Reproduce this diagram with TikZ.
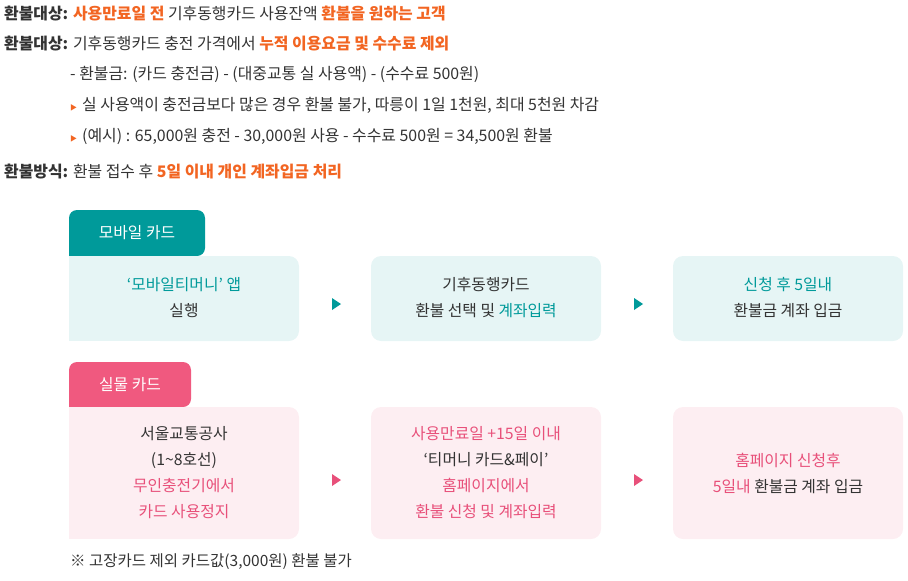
\documentclass[tikz,border=0pt]{standalone}
\usepackage{fontspec}
\setmainfont{Noto Sans CJK KR}
\usetikzlibrary{calc}
\definecolor{org}{HTML}{F26522}
\definecolor{teal}{HTML}{009A9A}
\definecolor{pnk}{HTML}{E8507A}
\definecolor{ltteal}{HTML}{E6F5F5}
\definecolor{ltpink}{HTML}{FDEEF2}
\definecolor{tabpink}{HTML}{F0597F}
\definecolor{txt}{HTML}{333333}
\newcommand{\og}[1]{\textcolor{org}{\bfseries #1}}
\newcommand{\tl}[1]{\textcolor{teal}{#1}}
\newcommand{\pk}[1]{\textcolor{pnk}{#1}}
\newcommand{\tri}{\textcolor{org}{\scriptsize▶}\hspace{5pt}}
\begin{document}
\begin{tikzpicture}[x=1pt,y=-1pt,
  line/.style={anchor=west,inner sep=0pt,font=\fontsize{15.9}{18}\selectfont,text=txt},
  boxtext/.style={align=center,font=\fontsize{15.8}{26}\selectfont,text=txt},
  tabtext/.style={text=white,font=\fontsize{15.8}{18}\selectfont}]
\useasboundingbox (0,0) rectangle (908,581);
\node[line] (l1) at (4,14) {\textbf{환불대상:} \og{사용만료일 전} 기후동행카드 사용잔액 \og{환불을 원하는 고객}};
\node[line] (l2) at (4,44) {\textbf{환불대상:} 기후동행카드 충전 가격에서 \og{누적 이용요금 및 수수료 제외}};
\node[line] (l3) at (70,74) {- 환불금: (카드 충전금) - (대중교통 실 사용액) - (수수료 500원)};
\node[line] (l4) at (70,105) {\tri 실 사용액이 충전금보다 많은 경우 환불 불가, 따릉이 1일 1천원, 최대 5천원 차감};
\node[line] (l5) at (70,136) {\tri (예시) : 65,000원 충전 - 30,000원 사용 - 수수료 500원 = 34,500원 환불};
\node[line] (l6) at (4,172) {\textbf{환불방식:} 환불 접수 후 \og{5일 이내 개인 계좌입금 처리}};
% mobile
\fill[teal,rounded corners=8pt] (69,256) -- (69,210) -- (205,210) -- (205,256) [sharp corners] -- cycle;
\node[tabtext] (tm) at (137,233) {모바일 카드};
\fill[ltteal,rounded corners=10pt] (150,256) -- (299,256) -- (299,341) -- (150,341) -- cycle;
\fill[ltteal] (69,256) rectangle (180,341);
\node[boxtext] (m1) at (184,298) {\tl{‘모바일티머니’ 앱}\\실행};
\fill[ltteal,rounded corners=10pt] (371,256) rectangle (601,341);
\node[boxtext] (m2) at (486,298) {기후동행카드\\환불 선택 및 \tl{계좌입력}};
\fill[ltteal,rounded corners=10pt] (673,256) rectangle (903,341);
\node[boxtext] (m3) at (788,298) {\tl{신청 후 5일내}\\환불금 계좌 입금};
\fill[teal] (332,298) -- (341,304) -- (332,310) -- cycle;
\fill[teal] (634,298) -- (643,304) -- (634,310) -- cycle;
% physical
\fill[tabpink,rounded corners=8pt] (69,407) -- (69,362) -- (191,362) -- (191,407) [sharp corners] -- cycle;
\node[tabtext] (tp) at (130,385) {실물 카드};
\fill[ltpink,rounded corners=10pt] (150,407) -- (299,407) -- (299,539) -- (150,539) -- cycle;
\fill[ltpink] (69,407) rectangle (180,539);
\node[boxtext] (p1) at (184,473) {서울교통공사\\(1\textasciitilde8호선)\\\pk{무인충전기에서}\\\pk{카드 사용정지}};
\fill[ltpink,rounded corners=10pt] (371,407) rectangle (601,539);
\node[boxtext] (p2) at (486,473) {\pk{사용만료일 +15일 이내}\\‘티머니 카드\&페이’\\\pk{홈페이지에서}\\\pk{환불 신청 및 계좌입력}};
\fill[ltpink,rounded corners=10pt] (673,407) rectangle (903,539);
\node[boxtext] (p3) at (788,473) {\pk{홈페이지 신청후}\\\pk{5일내} 환불금 계좌 입금};
\fill[pnk] (332,474) -- (341,480) -- (332,486) -- cycle;
\fill[pnk] (634,474) -- (643,480) -- (634,486) -- cycle;
\node[line,font=\fontsize{15.5}{16}\selectfont] (fn) at (70,562) {※ 고장카드 제외 카드값(3,000원) 환불 불가};
\end{tikzpicture}
\end{document}
